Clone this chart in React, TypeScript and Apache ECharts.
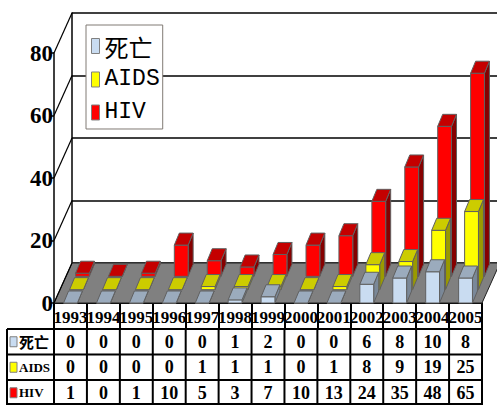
import React, { useEffect, useRef } from "react";
import * as echarts from "echarts";

const years = ["1993", "1994", "1995", "1996", "1997", "1998", "1999", "2000", "2001", "2002", "2003", "2004", "2005"];
const deaths = [0, 0, 0, 0, 0, 1, 2, 0, 0, 6, 8, 10, 8];
const aids = [0, 0, 0, 0, 1, 1, 1, 0, 1, 8, 9, 19, 25];
const hiv = [1, 0, 1, 10, 5, 3, 7, 10, 13, 24, 35, 48, 65];
const yTicks = [0, 20, 40, 60, 80];
const seriesNames = ["死亡", "AIDS", "HIV"];

const DEPTH_X = 18;
const DEPTH_Y = -40;
const ROW_DX = DEPTH_X / 3;
const ROW_DY = DEPTH_Y / 3;
const BAR_DX = 5;
const BAR_DY = -12;
const BAR_FRAC = 0.42;
const TABLE_LEFT = 7;
const ROW_H = 25.5;
const HEAD_H = 26;

const SERIF = "'Liberation Serif', 'Noto Sans CJK SC', serif";
const MONO = "'Liberation Mono', 'Noto Sans CJK SC', monospace";

const palette = {
  死亡: { front: "#C9DCF1", top: "#9BABBD", side: "#7A8898" },
  AIDS: { front: "#FFFF00", top: "#CCCC00", side: "#9A9A00" },
  HIV: { front: "#FF0000", top: "#C40000", side: "#860000" },
} as Record<string, { front: string; top: string; side: string }>;

function barSeries(name: string, values: number[], row: number) {
  const col = palette[name];
  return {
    type: "custom",
    name,
    z: 2,
    xAxisIndex: 0,
    yAxisIndex: 0,
    itemStyle: { color: col.front, borderColor: "#808080", borderWidth: 1 },
    data: values.map((v, i) => [i, v]),
    encode: { x: 0, y: 1 },
    renderItem: (params: any, api: any) => {
      const i = api.value(0);
      const v = api.value(1);
      const base = api.coord([i, 0]);
      const top = api.coord([i, v]);
      const bw = api.size([1, 0])[0] * BAR_FRAC;
      const ox = row * ROW_DX;
      const oy = row * ROW_DY;
      const x0 = base[0] - bw / 2 + ox;
      const x1 = x0 + bw;
      const yb = base[1] + oy;
      const yt = top[1] + oy;
      const stroke = { stroke: "#606060", lineWidth: 1 };
      return {
        type: "group",
        children: [
          {
            type: "polygon",
            shape: { points: [[x1, yt], [x1, yb], [x1 + BAR_DX, yb + BAR_DY], [x1 + BAR_DX, yt + BAR_DY]] },
            style: { fill: col.side, ...stroke },
          },
          {
            type: "rect",
            shape: { x: x0, y: yt, width: bw, height: Math.max(yb - yt, 0) },
            style: { fill: col.front, ...stroke },
          },
          {
            type: "polygon",
            shape: { points: [[x0, yt], [x1, yt], [x1 + BAR_DX, yt + BAR_DY], [x0 + BAR_DX, yt + BAR_DY]] },
            style: { fill: col.top, ...stroke },
          },
        ],
      };
    },
  };
}

export default function App() {
  const ref = useRef<HTMLDivElement>(null);
  useEffect(() => {
    if (!ref.current) return;
    const chart = echarts.init(ref.current, null, { renderer: "svg" });
    const rowsData = [deaths, aids, hiv];
    const option: any = {
      animation: false,
      backgroundColor: "#ffffff",
      textStyle: { fontFamily: SERIF },
      legend: {
        data: seriesNames,
        orient: "vertical",
        left: 86,
        top: 25,
        icon: "rect",
        itemWidth: 8,
        itemHeight: 15,
        itemGap: 10,
        padding: [9, 3, 5, 5],
        backgroundColor: "#ffffff",
        borderColor: "#807a74",
        borderWidth: 1,
        borderRadius: 0,
        itemStyle: { borderColor: "#808080", borderWidth: 1 },
        formatter: (nm: string) => (nm === "死亡" ? "{cjk|" + nm + "}" : "{lat|" + nm + "}"),
        textStyle: {
          fontFamily: MONO,
          fontSize: 23,
          lineHeight: 23,
          color: "#000",
          rich: {
            cjk: { fontFamily: "'Noto Sans CJK SC', sans-serif", fontSize: 24, lineHeight: 23, color: "#000" },
            lat: { fontFamily: MONO, fontSize: 23, lineHeight: 23, color: "#000" },
          },
        },
        selectedMode: false,
      },
      grid: [
        { left: 54, right: 15, top: 53, bottom: 102 },
        { left: 54 + DEPTH_X, right: 0, top: 53 + DEPTH_Y, bottom: 102 - DEPTH_Y },
      ],
      xAxis: [
        {
          type: "category",
          gridIndex: 0,
          data: years,
          boundaryGap: true,
          axisLine: { show: true, lineStyle: { color: "#000", width: 2 } },
          axisTick: { show: true, length: HEAD_H, alignWithLabel: false, lineStyle: { color: "#000", width: 2 } },
          axisLabel: {
            interval: 0,
            margin: 6,
            fontFamily: SERIF,
            fontWeight: "bold",
            fontSize: 17,
            color: "#000",
          },
          splitLine: { show: false },
        },
        { type: "category", gridIndex: 1, data: years, show: false },
      ],
      yAxis: [
        {
          type: "value",
          gridIndex: 0,
          min: 0,
          max: 80,
          interval: 20,
          axisLine: { show: true, lineStyle: { color: "#000", width: 1.5 } },
          axisTick: { show: true, length: 3, lineStyle: { color: "#000", width: 1.5 } },
          axisLabel: {
            margin: 1,
            fontFamily: SERIF,
            fontWeight: "bold",
            fontSize: 23,
            color: "#000",
            padding: [6, 0, 0, 0],
          },
          splitLine: { show: false },
        },
        {
          type: "value",
          gridIndex: 1,
          min: 0,
          max: 80,
          interval: 20,
          axisLine: { show: true, lineStyle: { color: "#000", width: 1.5 } },
          axisTick: { show: false },
          axisLabel: { show: false },
          splitLine: { show: true, lineStyle: { color: "#000", width: 1.5 } },
        },
      ],
      series: [
        {
          type: "custom",
          name: "floor",
          z: 1,
          xAxisIndex: 0,
          yAxisIndex: 0,
          data: [[0, 0]],
          encode: { x: 0, y: 1 },
          silent: true,
          renderItem: (params: any, api: any) => {
            const cs = params.coordSys;
            const y0 = api.coord([0, 0])[1];
            const x0 = cs.x;
            const x1 = cs.x + cs.width;
            return {
              type: "polygon",
              shape: { points: [[x0, y0], [x1, y0], [x1 + DEPTH_X, y0 + DEPTH_Y], [x0 + DEPTH_X, y0 + DEPTH_Y]] },
              style: { fill: "#808080", stroke: "#202020", lineWidth: 1 },
            };
          },
        },
        {
          type: "custom",
          name: "walls",
          z: 1,
          xAxisIndex: 0,
          yAxisIndex: 0,
          data: yTicks.map((v) => [0, v]),
          encode: { x: 0, y: 1 },
          silent: true,
          renderItem: (params: any, api: any) => {
            const cs = params.coordSys;
            const y = api.coord([0, api.value(1)])[1];
            return {
              type: "line",
              shape: { x1: cs.x, y1: y, x2: cs.x + DEPTH_X, y2: y + DEPTH_Y },
              style: { stroke: "#000", lineWidth: 1.2 },
            };
          },
        },
        barSeries("HIV", hiv, 2),
        barSeries("AIDS", aids, 1),
        barSeries("死亡", deaths, 0),
        {
          type: "custom",
          name: "table",
          z: 3,
          xAxisIndex: 0,
          yAxisIndex: 0,
          data: years.map((_, i) => [i, 0]),
          encode: { x: 0, y: 1 },
          silent: true,
          renderItem: (params: any, api: any) => {
            const i = api.value(0);
            const c = api.coord([i, 0]);
            const bw = api.size([1, 0])[0];
            const top = c[1] + HEAD_H;
            const bottom = top + ROW_H * 3;
            const xl = c[0] - bw / 2;
            const xr = c[0] + bw / 2;
            const line = { stroke: "#000", lineWidth: 2 };
            const children: any[] = [];
            for (let k = 0; k <= 3; k++) {
              const y = Math.min(top + ROW_H * k, 404);
              children.push({ type: "line", shape: { x1: xl, y1: y, x2: xr, y2: y }, style: line });
            }
            children.push({ type: "line", shape: { x1: xr, y1: top, x2: xr, y2: bottom }, style: line });
            rowsData.forEach((arr, k) => {
              children.push({
                type: "text",
                style: {
                  text: String(arr[i]),
                  x: c[0],
                  y: top + ROW_H * (k + 0.5),
                  align: "center",
                  verticalAlign: "middle",
                  fontFamily: SERIF,
                  fontWeight: "bold",
                  fontSize: 18,
                  fill: "#000",
                },
              });
            });
            if (i === 0) {
              const L = TABLE_LEFT;
              for (let k = 0; k <= 3; k++) {
                const y = Math.min(top + ROW_H * k, 404);
                children.push({ type: "line", shape: { x1: L, y1: y, x2: xl, y2: y }, style: line });
              }
              children.push({ type: "line", shape: { x1: L, y1: top, x2: L, y2: bottom }, style: line });
              children.push({ type: "line", shape: { x1: xl, y1: top, x2: xl, y2: bottom }, style: line });
              seriesNames.forEach((nm, k) => {
                const cy = top + ROW_H * (k + 0.5);
                children.push({
                  type: "rect",
                  shape: { x: L + 3, y: cy - 5, width: 7, height: 10 },
                  style: { fill: palette[nm].front, stroke: "#808080", lineWidth: 1 },
                });
                children.push({
                  type: "text",
                  style: {
                    text: nm,
                    x: L + 12,
                    y: cy,
                    align: "left",
                    verticalAlign: "middle",
                    fontFamily: nm === "死亡" ? "'Noto Sans CJK SC', sans-serif" : SERIF,
                    fontWeight: "bold",
                    fontSize: nm === "死亡" ? 15 : 13,
                    fill: "#000",
                  },
                });
              });
            }
            return { type: "group", children };
          },
        },
      ],
    };
    chart.setOption(option);
    return () => chart.dispose();
  }, []);
  return (
    <div
      ref={ref}
      style={{ position: "fixed", left: 0, top: 0, width: 497, height: 405, background: "#fff" }}
    />
  );
}
